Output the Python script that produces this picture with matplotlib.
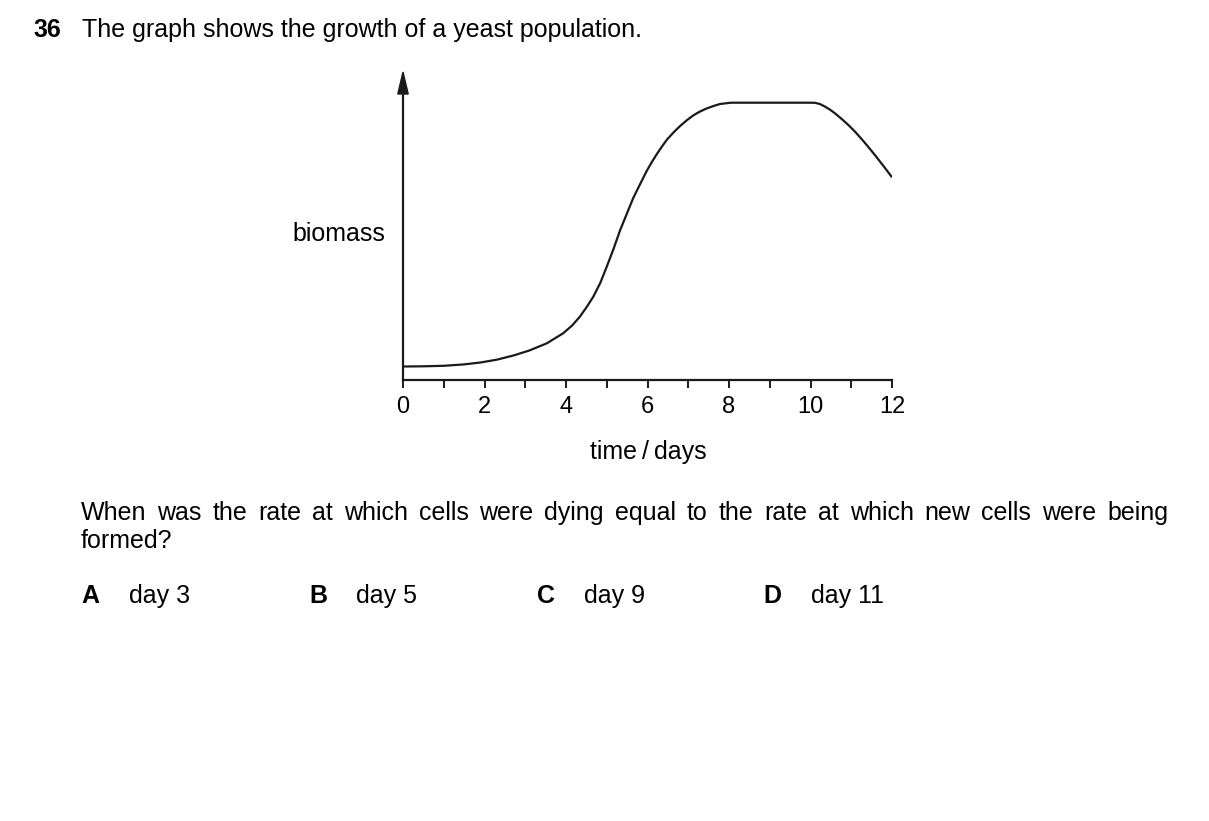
import matplotlib
matplotlib.use("Agg")
import matplotlib.pyplot as plt
from matplotlib.patches import Polygon

plt.rcParams['font.family'] = ['Liberation Sans', 'DejaVu Sans']

# Data (biomass in arbitrary units)
days = [0.0, 0.5, 1.0, 1.5, 1.9, 2.3, 2.71, 3.1, 3.53, 3.93, 4.15, 4.34, 4.5, 4.67,
        4.84, 5.0, 5.17, 5.33, 5.49, 5.65, 5.82, 5.98, 6.1, 6.23, 6.35, 6.47, 6.63,
        6.8, 6.96, 7.12, 7.28, 7.45, 7.62, 7.78, 8.05, 9.0, 10.0, 10.11, 10.23,
        10.36, 10.48, 10.6, 10.76, 10.93, 11.1, 11.26, 11.42, 11.58, 11.8, 12.0]
biomass = [13.5, 13.7, 14.2, 15.6, 17.5, 20.3, 24.5, 29.5, 36.7, 46.7, 54.5, 63.3,
           72.5, 83.3, 97, 113.3, 131.5, 150, 166, 182, 196, 209, 217.5, 226,
           233.2, 240, 247.2, 254, 259.6, 264.5, 268.3, 271.5, 274, 276, 277.3,
           277.3, 277.3, 277.2, 276, 273.3, 270.3, 266.7, 261.2, 255, 248, 240.7,
           233, 225, 213.5, 202.7]
tick_days = list(range(0, 13))
label_days = [0, 2, 4, 6, 8, 10, 12]

W, H = 1209, 821
fig = plt.figure(figsize=(W / 100, H / 100), dpi=100)

x0, x1 = 403, 892
ybot, ytop = 380, 92
ax = fig.add_axes([x0 / W, (H - ybot) / H, (x1 - x0) / W, (ybot - ytop) / H])
ax.set_xlim(0, 12)
ax.set_ylim(0, ybot - ytop)
ax.plot(days, biomass, color='#1a1a1a', lw=1.6, solid_capstyle='butt',
        solid_joinstyle='round')

for s in ['top', 'right']:
    ax.spines[s].set_visible(False)
for s in ['left', 'bottom']:
    ax.spines[s].set_linewidth(1.6)
    ax.spines[s].set_color('#1a1a1a')
ax.set_yticks([])
ax.set_xticks(tick_days)
ax.set_xticklabels([str(d) if d in label_days else '' for d in tick_days])
ax.tick_params(axis='x', direction='out', length=5.5, width=1.4, color='#1a1a1a',
               pad=6, labelsize=17)

# arrow head on y axis
pxday = (x1 - x0) / 12
hw = 5.2 / pxday
top = ybot - ytop
ax.add_patch(Polygon([(-hw, top - 2), (hw, top - 2), (0, top + 20)], closed=True,
                     color='#1a1a1a', clip_on=False))

fs = 18


def bl(y):
    return 1 - y / H


fig.text(33 / W, bl(37), '36', fontsize=fs, fontweight='bold', va='baseline')
fig.text(82 / W, bl(37), 'The graph shows the growth of a yeast population.',
         fontsize=fs, va='baseline')
fig.text(385 / W, bl(241), 'biomass', fontsize=fs, va='baseline', ha='right')
fig.text(648 / W, bl(459), 'time\u2009/\u2009days', fontsize=fs, va='baseline', ha='center')

# justified question line
line1 = 'When was the rate at which cells were dying equal to the rate at which new cells were being'.split()
fig.canvas.draw()
r = fig.canvas.get_renderer()
texts = [fig.text(0, bl(520), w, fontsize=fs, va='baseline') for w in line1]
widths = [t.get_window_extent(r).width for t in texts]
left, right = 81, 1168
gap = (right - left - sum(widths)) / (len(line1) - 1)
xpos = left
for t, w in zip(texts, widths):
    t.set_x(xpos / W)
    xpos += w + gap
fig.text(81 / W, bl(548), 'formed?', fontsize=fs, va='baseline')

letters = ['A', 'B', 'C', 'D']
answers = ['day 3', 'day 5', 'day 9', 'day 11']
letter_x = [81, 309, 537, 763]
answer_x = [129, 356, 584, 811]
for L, a, lx, axx in zip(letters, answers, letter_x, answer_x):
    fig.text(lx / W, bl(603), L, fontsize=fs, fontweight='bold', va='baseline')
    fig.text(axx / W, bl(603), a, fontsize=fs, va='baseline')

fig.savefig('out.png', dpi=100, facecolor='white')
